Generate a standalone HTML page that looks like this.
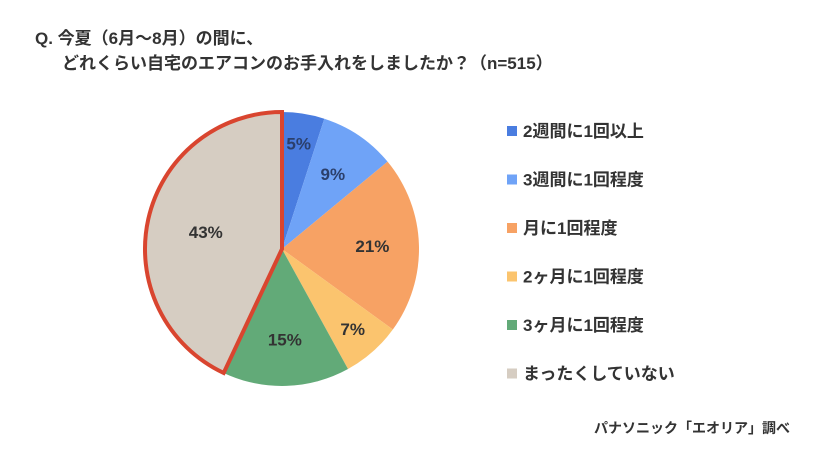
<!DOCTYPE html>
<html><head><meta charset="utf-8">
<style>
body{margin:0;background:#fff;}
svg{display:block;font-family:"Liberation Sans","Noto Sans CJK JP",sans-serif;}
</style></head>
<body>
<svg id="chart" width="820" height="461" viewBox="0 0 820 461">
<text x="35" y="44" font-size="17" font-weight="bold" fill="#333">Q. 今夏（6月～8月）の間に、</text>
<text x="62" y="69" font-size="17" font-weight="bold" fill="#333">どれくらい自宅のエアコンのお手入れをしましたか？（n=515）</text>
<g id="slices"></g>
<g id="labels"></g>
<g id="legend"></g>
<text x="790" y="433" font-size="14" font-weight="bold" fill="#333" text-anchor="end">パナソニック「エオリア」調べ</text>
</svg>
<script>
const categories=["2週間に1回以上","3週間に1回程度","月に1回程度","2ヶ月に1回程度","3ヶ月に1回程度","まったくしていない"];
const values=[5,9,21,7,15,43];
const colors=["#4a7de0","#6fa3f7","#f7a264","#fbc46e","#62aa78","#d6cdc2"];
const NS="http://www.w3.org/2000/svg";
const cx=282,cy=249,r=137;
const total=values.reduce((a,b)=>a+b,0);
function pt(frac,rad){const a=frac*2*Math.PI;return [cx+rad*Math.sin(a),cy-rad*Math.cos(a)];}
const sg=document.getElementById('slices'),lg=document.getElementById('labels'),leg=document.getElementById('legend');
let acc=0;
values.forEach((v,i)=>{
  const f0=acc/total,f1=(acc+v)/total;acc+=v;
  const p0=pt(f0,r),p1=pt(f1,r);
  const large=(f1-f0)>0.5?1:0;
  const path=document.createElementNS(NS,'path');
  path.setAttribute('d',`M${cx},${cy}L${p0[0]},${p0[1]}A${r},${r} 0 ${large} 1 ${p1[0]},${p1[1]}Z`);
  path.setAttribute('fill',colors[i]);
  if(i===values.length-1){path.setAttribute('stroke','#d9452f');path.setAttribute('stroke-width','4');path.setAttribute('stroke-linejoin','miter');}
  
  
  sg.appendChild(path);
  const rf=v<8?0.78:(v>30?0.57:0.66);
  const lp=pt((f0+f1)/2,r*rf);
  const t=document.createElementNS(NS,'text');
  t.setAttribute('x',lp[0]);t.setAttribute('y',lp[1]+6);
  t.setAttribute('text-anchor','middle');t.setAttribute('font-size','17');t.setAttribute('font-weight','bold');
  t.setAttribute('fill',i<2?'#2b3f6b':'#333');
  t.textContent=v+'%';
  
  
  lg.appendChild(t);
  const y=131+i*48.5;
  const sq=document.createElementNS(NS,'rect');
  sq.setAttribute('x',507);sq.setAttribute('y',y-5);sq.setAttribute('width',10);sq.setAttribute('height',10);sq.setAttribute('fill',colors[i]);
  
  
  leg.appendChild(sq);
  const lt=document.createElementNS(NS,'text');
  lt.setAttribute('x',523);lt.setAttribute('y',y+6);lt.setAttribute('font-size','17');lt.setAttribute('font-weight','bold');lt.setAttribute('fill','#333');
  lt.textContent=categories[i];
  
  
  leg.appendChild(lt);
});
</script>
</body></html>
